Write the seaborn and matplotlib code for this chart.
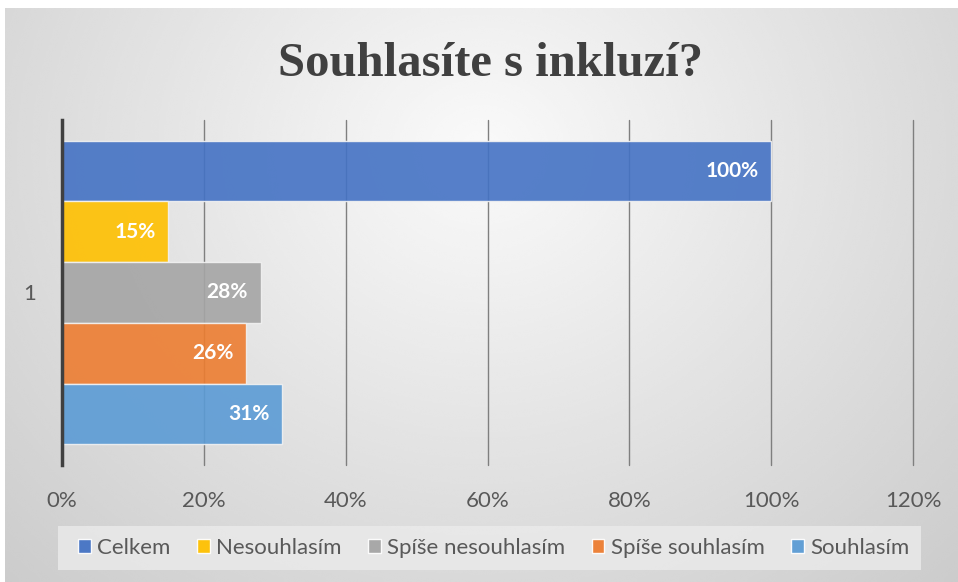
import numpy as np
import pandas as pd
import matplotlib.pyplot as plt
import seaborn as sns
from matplotlib.patches import Patch, Rectangle
from matplotlib.ticker import FuncFormatter

title = "Souhlasíte s inkluzí?"
group = ["1"] * 5
series = ["Celkem", "Nesouhlasím", "Spíše nesouhlasím", "Spíše souhlasím", "Souhlasím"]
values = [1.00, 0.15, 0.28, 0.26, 0.31]
colors = ["#4472C4", "#FFC000", "#A5A5A5", "#ED7D31", "#5B9BD5"]

df = pd.DataFrame({"group": group, "series": series, "value": values})

sns.set_theme(style="white")
plt.rcParams["font.family"] = ["Lato", "DejaVu Sans"]

fig = plt.figure(figsize=(9.58, 5.82), dpi=100)
fig.patch.set_facecolor("white")

# radial gray background like the office chart area
bg = fig.add_axes([5 / 958, 0, 953 / 958, 1 - 8 / 582], zorder=-10)
yy, xx = np.mgrid[0:1:300j, 0:1:500j]
r = np.sqrt(((xx - 0.5) / 0.75) ** 2 + ((yy - 0.25) / 1.1) ** 2)
bg.imshow(0.98 - 0.19 * np.clip(r, 0, 1), cmap="gray", vmin=0, vmax=1,
          aspect="auto", extent=[0, 1, 1, 0], interpolation="bicubic")
bg.set_axis_off()

ax = fig.add_axes([62 / 958, 1 - 465 / 582, 851 / 958, 345 / 582])
ax.patch.set_alpha(0)

sns.barplot(data=df, x="value", y="group", hue="series", hue_order=series,
            palette=colors, saturation=1, orient="h", width=0.88, alpha=0.9,
            edgecolor="#F2F2F2", linewidth=1, legend=False, ax=ax, zorder=3)

ax.set_xlim(0, 1.2)
ax.set_ylim(0.5, -0.5)
ax.set_xticks(np.arange(0, 1.21, 0.2))
ax.xaxis.set_major_formatter(FuncFormatter(lambda v, _: f"{v * 100:.0f}%"))
ax.grid(axis="x", color="#7F7F7F", linewidth=1, zorder=1)
for gl in ax.get_xgridlines():
    gl.set_clip_on(False)
ax.set_axisbelow(True)
for s in ["top", "right", "bottom"]:
    ax.spines[s].set_visible(False)
ax.spines["left"].set_color("#404040")
ax.spines["left"].set_linewidth(2.5)
ax.spines["left"].set_zorder(5)
ax.tick_params(axis="x", length=0, pad=19, labelsize=16, labelcolor="#595959")
ax.tick_params(axis="y", length=0, pad=19, labelsize=16, labelcolor="#595959")
ax.set_xlabel("")
ax.set_ylabel("")

for p, v in zip(sorted(ax.patches, key=lambda p: p.get_y()), values):
    ax.annotate(f"{v * 100:.0f}%", (p.get_x() + p.get_width(), p.get_y() + p.get_height() / 2),
                xytext=(-9, 0), textcoords="offset points", ha="right", va="center",
                color="white", fontsize=15, fontweight="bold", zorder=6)

fig.text(491 / 958, 1 - 64 / 582, title, ha="center", va="center", fontsize=35,
         fontweight="bold", color="#404040", family=["Liberation Serif", "DejaVu Serif"])

# legend box drawn separately (office-style light band)
fig.patches.append(Rectangle((58 / 958, 1 - 570 / 582), 863 / 958, 44 / 582,
                             transform=fig.transFigure, facecolor="#EBEBEB",
                             edgecolor="none", alpha=0.8, zorder=1))

handles = [Patch(facecolor=c, alpha=0.95) for c in colors]
leg = fig.legend(handles, series, loc="center", bbox_to_anchor=(494 / 958, 1 - 548 / 582),
                 ncol=5, frameon=False, fontsize=16, handlelength=0.55, handleheight=0.55,
                 handletextpad=0.3, columnspacing=1.2, labelcolor="#595959")

fig.savefig("out.png", dpi=100)
